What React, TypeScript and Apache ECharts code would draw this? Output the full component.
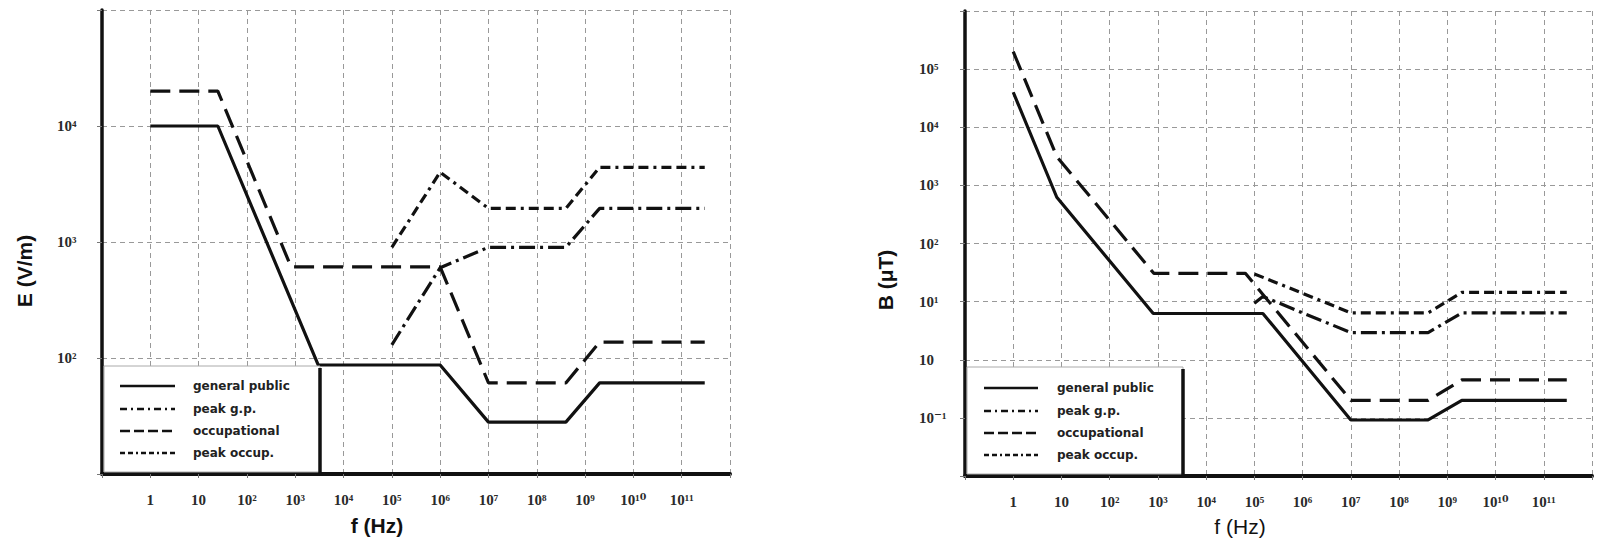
import React, { useEffect, useRef } from "react";
import * as echarts from "echarts";

// ---------- data ----------
const seriesNames = ["general public", "peak g.p.", "occupational", "peak occup."];

const xTickLabels: Record<number, string> = {
  0: "1", 1: "10", 2: "10²", 3: "10³", 4: "10⁴", 5: "10⁵", 6: "10⁶",
  7: "10⁷", 8: "10⁸", 9: "10⁹", 10: "10¹⁰", 11: "10¹¹",
};
const eTickLabels: Record<number, string> = { 2: "10²", 3: "10³", 4: "10⁴" };
const bTickLabels: Record<number, string> = {
  [-1]: "10⁻¹", 0: "10", 1: "10¹", 2: "10²", 3: "10³", 4: "10⁴", 5: "10⁵",
};

// Electric field E (V/m) vs f (Hz)
const eGpFreq = [1, 25, 3000, 1e6, 1e7, 4e8, 2e9, 3e11];
const eGpValue = [10000, 10000, 87, 87, 28, 28, 61, 61];
const ePeakGpFreq = [1e5, 1e6, 1e7, 4e8, 2e9, 3e11];
const ePeakGpValue = [130, 600, 900, 900, 1950, 1950];
const eOccFreq = [1, 25, 820, 1e6, 1e7, 4e8, 2e9, 3e11];
const eOccValue = [20000, 20000, 610, 610, 61, 61, 137, 137];
const ePeakOccFreq = [1e5, 1e6, 1e7, 4e8, 2e9, 3e11];
const ePeakOccValue = [900, 4000, 1950, 1950, 4400, 4400];

// Magnetic flux density B (µT) vs f (Hz)
const bGpFreq = [1, 8, 800, 1.5e5, 1e7, 4e8, 2e9, 3e11];
const bGpValue = [40000, 625, 6.25, 6.25, 0.092, 0.092, 0.2, 0.2];
const bPeakGpFreq = [1e5, 1.5e5, 1e6, 1e7, 4e8, 2e9, 3e11];
const bPeakGpValue = [9.4, 12.3, 6.4, 2.94, 2.94, 6.4, 6.4];
const bOccFreq = [1, 8, 820, 6.5e4, 1e7, 4e8, 2e9, 3e11];
const bOccValue = [200000, 3125, 30.7, 30.7, 0.2, 0.2, 0.45, 0.45];
const bPeakOccFreq = [1e5, 1e6, 1e7, 4e8, 2e9, 3e11];
const bPeakOccValue = [30, 13.9, 6.4, 6.4, 14.4, 14.4];

// ---------- styling ----------
const INK = "#111";
const GRID_COLOR = "#999";
const seriesDash: any[] = ["solid", [16, 5, 3, 5], [20, 9], [10, 5, 10, 5, 3, 5]];
const legendDash: any[] = [null, [7, 4, 2, 4], [10, 4], [5, 3, 5, 3, 2, 3]];

const toLog = (f: number[], v: number[]) => f.map((x, i) => [Math.log10(x), Math.log10(v[i])]);

const TICK_FONT = "'Liberation Serif', 'DejaVu Serif', serif";

function makeAxes(gridIndex: number, yMin: number, yMax: number, yLabels: Record<number, string>, yMargin: number) {
  const x = {
    type: "value", gridIndex, min: -1, max: 12, interval: 1,
    axisLine: { show: true, onZero: false, lineStyle: { color: INK, width: 4 } },
    axisTick: { show: true, length: 4, lineStyle: { color: "#777", width: 1 } },
    axisLabel: {
      margin: 18, color: "#2a2a2a", fontFamily: TICK_FONT,
      fontWeight: "bold", fontSize: 15,
      formatter: (v: number) => xTickLabels[Math.round(v)] ?? "",
    },
    splitLine: { show: true, lineStyle: { color: GRID_COLOR, width: 1, type: [5, 4] } },
  };
  const y = {
    type: "value", gridIndex, min: yMin, max: yMax, interval: 1,
    axisLine: { show: true, onZero: false, lineStyle: { color: INK, width: 3.5 } },
    axisTick: { show: true, length: 5, lineStyle: { color: "#777", width: 1 } },
    axisLabel: {
      margin: yMargin, align: "left", color: "#2a2a2a",
      fontFamily: TICK_FONT, fontWeight: "bold", fontSize: 15,
      formatter: (v: number) => yLabels[Math.round(v)] ?? "",
    },
    splitLine: { show: true, lineStyle: { color: GRID_COLOR, width: 1, type: [5, 4] } },
  };
  return { x, y };
}

function legendBox(x0: number, y0: number, x1: number, y1: number, sx1: number, sx2: number, tx: number, rows: number[]) {
  const els: any[] = [
    { type: "rect", z: 50, shape: { x: x0 + 2, y: y0, width: x1 - x0 - 2, height: y1 - y0 - 2 },
      style: { fill: "#fff", stroke: "#aaa", lineWidth: 1 } },
    { type: "line", z: 51, shape: { x1: x1, y1: y0 + 2, x2: x1, y2: y1 },
      style: { stroke: INK, lineWidth: 3.5 } },
  ];
  seriesNames.forEach((name, i) => {
    els.push({
      type: "line", z: 51, shape: { x1: sx1, y1: rows[i], x2: sx2, y2: rows[i] },
      style: { stroke: INK, lineWidth: 2.5, lineDash: legendDash[i] || null },
    });
    els.push({
      type: "text", z: 51, x: tx, y: rows[i],
      style: { text: name, fill: "#222", font: "bold 12px 'DejaVu Sans', sans-serif", textVerticalAlign: "middle" },
    });
  });
  return els;
}

export default function App() {
  const ref = useRef<HTMLDivElement>(null);
  useEffect(() => {
    if (!ref.current) return;
    const chart = echarts.init(ref.current, undefined, { renderer: "svg" });
    const a0 = makeAxes(0, 1, 5, eTickLabels, 45);
    const a1 = makeAxes(1, -2, 6, bTickLabels, 46);

    const eSets = [
      toLog(eGpFreq, eGpValue), toLog(ePeakGpFreq, ePeakGpValue),
      toLog(eOccFreq, eOccValue), toLog(ePeakOccFreq, ePeakOccValue),
    ];
    const bSets = [
      toLog(bGpFreq, bGpValue), toLog(bPeakGpFreq, bPeakGpValue),
      toLog(bOccFreq, bOccValue), toLog(bPeakOccFreq, bPeakOccValue),
    ];
    const mk = (sets: number[][][], idx: number) =>
      sets.map((d, i) => ({
        name: seriesNames[i], type: "line", xAxisIndex: idx, yAxisIndex: idx, data: d,
        showSymbol: false, symbol: "none", silent: true, z: 5,
        lineStyle: { color: INK, width: 3.2, type: seriesDash[i] },
      }));

    const titleFont = (w: string) => `${w} 21px 'Liberation Sans', Arial, sans-serif`;

    chart.setOption({
      animation: false,
      backgroundColor: "#fff",
      grid: [
        { left: 102, top: 10, width: 628, height: 464 },
        { left: 965, top: 11, width: 627, height: 465 },
      ],
      xAxis: [a0.x, a1.x],
      yAxis: [a0.y, a1.y],
      series: [...mk(eSets, 0), ...mk(bSets, 1)],
      graphic: [
        ...legendBox(102, 366, 320, 474, 120, 175, 193, [386, 409, 431, 453]),
        ...legendBox(965, 367, 1183, 476, 984, 1038, 1057, [388, 411, 433, 455]),
        { type: "text", x: 24, y: 271, rotation: Math.PI / 2,
          style: { text: "E (V/m)", font: titleFont("bold"), fill: "#111", textAlign: "center", textVerticalAlign: "middle" } },
        { type: "text", x: 377, y: 525,
          style: { text: "f (Hz)", font: titleFont("bold"), fill: "#111", textAlign: "center", textVerticalAlign: "middle" } },
        { type: "text", x: 885, y: 280, rotation: Math.PI / 2,
          style: { text: "B (μT)", font: titleFont("bold"), fill: "#111", textAlign: "center", textVerticalAlign: "middle" } },
        { type: "text", x: 1240, y: 526,
          style: { text: "f (Hz)", font: titleFont("normal"), fill: "#111", textAlign: "center", textVerticalAlign: "middle" } },
      ],
    });
    return () => chart.dispose();
  }, []);
  return (
    <div
      ref={ref}
      style={{ position: "absolute", left: 0, top: 0, width: 1614, height: 545, background: "#fff" }}
    />
  );
}
